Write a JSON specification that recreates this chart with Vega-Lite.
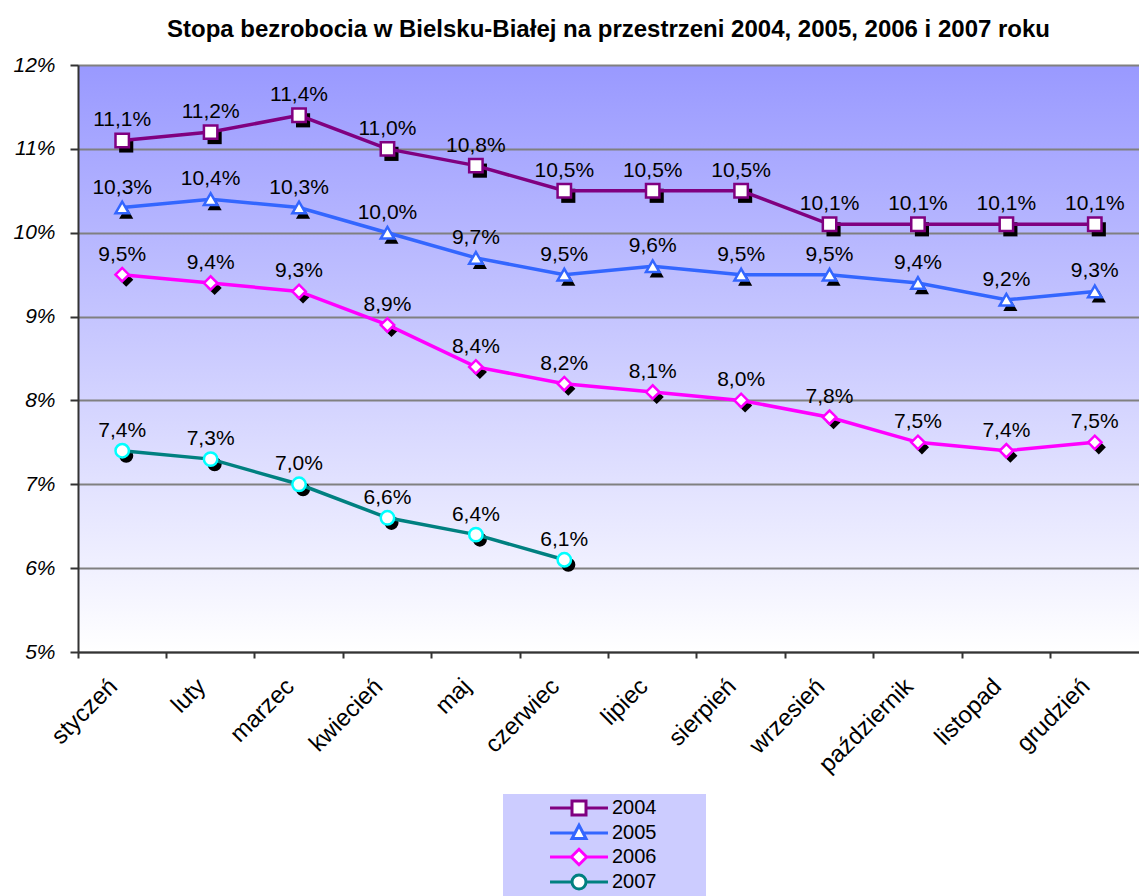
{
  "$schema": "https://vega.github.io/schema/vega-lite/v6.json",
  "width": 1061,
  "height": 587,
  "autosize": {"type": "none"},
  "padding": {"left": 78, "top": 65, "right": 0, "bottom": 244},
  "background": "white",
  "title": {"text": "Stopa bezrobocia w Bielsku-Białej na przestrzeni 2004, 2005, 2006 i 2007 roku", "font": "Liberation Sans", "fontSize": 24, "fontWeight": "bold", "color": "black", "anchor": "middle", "offset": 12},
  "config": {
    "font": "Liberation Sans",
    "view": {"stroke": null, "fill": {"gradient": "linear", "x1": 0, "y1": 0, "x2": 0, "y2": 1, "stops": [{"offset": 0, "color": "#9999FF"}, {"offset": 1, "color": "#FFFFFF"}]}}
  },
  "data": {"values": [
    {"m": "styczeń", "year": "2004", "v": 11.1}, {"m": "luty", "year": "2004", "v": 11.2}, {"m": "marzec", "year": "2004", "v": 11.4}, {"m": "kwiecień", "year": "2004", "v": 11.0}, {"m": "maj", "year": "2004", "v": 10.8}, {"m": "czerwiec", "year": "2004", "v": 10.5}, {"m": "lipiec", "year": "2004", "v": 10.5}, {"m": "sierpień", "year": "2004", "v": 10.5}, {"m": "wrzesień", "year": "2004", "v": 10.1}, {"m": "październik", "year": "2004", "v": 10.1}, {"m": "listopad", "year": "2004", "v": 10.1}, {"m": "grudzień", "year": "2004", "v": 10.1},
    {"m": "styczeń", "year": "2005", "v": 10.3}, {"m": "luty", "year": "2005", "v": 10.4}, {"m": "marzec", "year": "2005", "v": 10.3}, {"m": "kwiecień", "year": "2005", "v": 10.0}, {"m": "maj", "year": "2005", "v": 9.7}, {"m": "czerwiec", "year": "2005", "v": 9.5}, {"m": "lipiec", "year": "2005", "v": 9.6}, {"m": "sierpień", "year": "2005", "v": 9.5}, {"m": "wrzesień", "year": "2005", "v": 9.5}, {"m": "październik", "year": "2005", "v": 9.4}, {"m": "listopad", "year": "2005", "v": 9.2}, {"m": "grudzień", "year": "2005", "v": 9.3},
    {"m": "styczeń", "year": "2006", "v": 9.5}, {"m": "luty", "year": "2006", "v": 9.4}, {"m": "marzec", "year": "2006", "v": 9.3}, {"m": "kwiecień", "year": "2006", "v": 8.9}, {"m": "maj", "year": "2006", "v": 8.4}, {"m": "czerwiec", "year": "2006", "v": 8.2}, {"m": "lipiec", "year": "2006", "v": 8.1}, {"m": "sierpień", "year": "2006", "v": 8.0}, {"m": "wrzesień", "year": "2006", "v": 7.8}, {"m": "październik", "year": "2006", "v": 7.5}, {"m": "listopad", "year": "2006", "v": 7.4}, {"m": "grudzień", "year": "2006", "v": 7.5},
    {"m": "styczeń", "year": "2007", "v": 7.4}, {"m": "luty", "year": "2007", "v": 7.3}, {"m": "marzec", "year": "2007", "v": 7.0}, {"m": "kwiecień", "year": "2007", "v": 6.6}, {"m": "maj", "year": "2007", "v": 6.4}, {"m": "czerwiec", "year": "2007", "v": 6.1}
  ]},
  "transform": [{"calculate": "replace(format(datum.v, '.1f'), '.', ',') + '%'", "as": "lbl"}],
  "encoding": {
    "x": {"field": "m", "type": "nominal", "sort": ["styczeń", "luty", "marzec", "kwiecień", "maj", "czerwiec", "lipiec", "sierpień", "wrzesień", "październik", "listopad", "grudzień"], "scale": {"type": "band", "paddingInner": 0, "paddingOuter": 0},
      "axis": {"title": null, "grid": false, "domainColor": "#333333", "domainWidth": 2, "tickColor": "#333333", "tickWidth": 2, "tickSize": 6, "bandPosition": 0, "labelAngle": -45, "labelAlign": "right", "labelBaseline": "top", "labelFontSize": 24, "labelColor": "black", "labelOffset": -17, "labelPadding": 16}},
    "y": {"field": "v", "type": "quantitative", "scale": {"domain": [5, 12], "nice": false, "zero": false},
      "axis": {"title": null, "values": [5, 6, 7, 8, 9, 10, 11, 12], "labelExpr": "datum.value + '%'", "labelFontStyle": "italic", "labelFontSize": 21, "labelColor": "black", "labelPadding": 15, "domainColor": "#333333", "domainWidth": 2, "tickColor": "#333333", "tickWidth": 2, "tickSize": 8, "gridColor": "#808080", "gridWidth": 2}}
  },
  "layer": [
    {"mark": {"type": "point", "filled": true, "size": 200, "xOffset": 4, "yOffset": 5, "opacity": 1}, "encoding": {"color": {"value": "black"},
      "shape": {"condition": [{"test": "datum.year == '2004'", "value": "square"}, {"test": "datum.year == '2005'", "value": "triangle-up"}, {"test": "datum.year == '2006'", "value": "diamond"}], "value": "circle"}}},
    {"mark": {"type": "line", "strokeWidth": 3.5}, "encoding": {"stroke": {"field": "year", "type": "nominal", "scale": {"domain": ["2004", "2005", "2006", "2007"], "range": ["#800080", "#3366FF", "#FF00FF", "#008080"]},
         "legend": {"orient": "none", "legendX": 425, "legendY": 729, "title": null, "fillColor": "#CCCCFF", "padding": 4, "labelFontSize": 20, "labelColor": "black", "symbolSize": 196, "symbolStrokeWidth": 3, "symbolOffset": 62, "labelOffset": 23, "rowPadding": -2,
           "encode": {
             "labels": {"update": {"text": {"signal": "datum.label + '\u2800\u2800\u2800'"}}},
             "symbols": {"update": {
             "shape": {"signal": "datum.value == '2004' ? 'M-4.14,0H-1M1,0H4.14M-1,-1H1V1H-1Z' : datum.value == '2005' ? 'M-4.14,0H-0.58M0.58,0H4.14M0,-1.1L1,0.8H-1Z' : datum.value == '2006' ? 'M-4.14,0H-1.1M1.1,0H4.14M0,-1.1L1.1,0L0,1.1L-1.1,0Z' : 'M-4.14,0H-1M1,0H4.14M1,0A1,1,0,1,1,-1,0A1,1,0,1,1,1,0Z'"},
             "fill": {"value": "white"}, "fillOpacity": {"value": 1}, "opacity": {"value": 1}, "strokeWidth": {"value": 3}}}}}}}},
    {"mark": {"type": "point", "filled": false, "fill": "white", "fillOpacity": 1, "opacity": 1, "size": 180, "strokeWidth": 2.5},
     "encoding": {
       "stroke": {"condition": {"test": "datum.year == '2007'", "value": "#00FFFF"}, "field": "year", "type": "nominal"},
       "shape": {"condition": [{"test": "datum.year == '2004'", "value": "square"}, {"test": "datum.year == '2005'", "value": "triangle-up"}, {"test": "datum.year == '2006'", "value": "diamond"}], "value": "circle"}}},
    {"mark": {"type": "text", "baseline": "bottom", "dy": -10, "fontSize": 21, "color": "black"}, "encoding": {"text": {"field": "lbl"}}}
  ]
}
